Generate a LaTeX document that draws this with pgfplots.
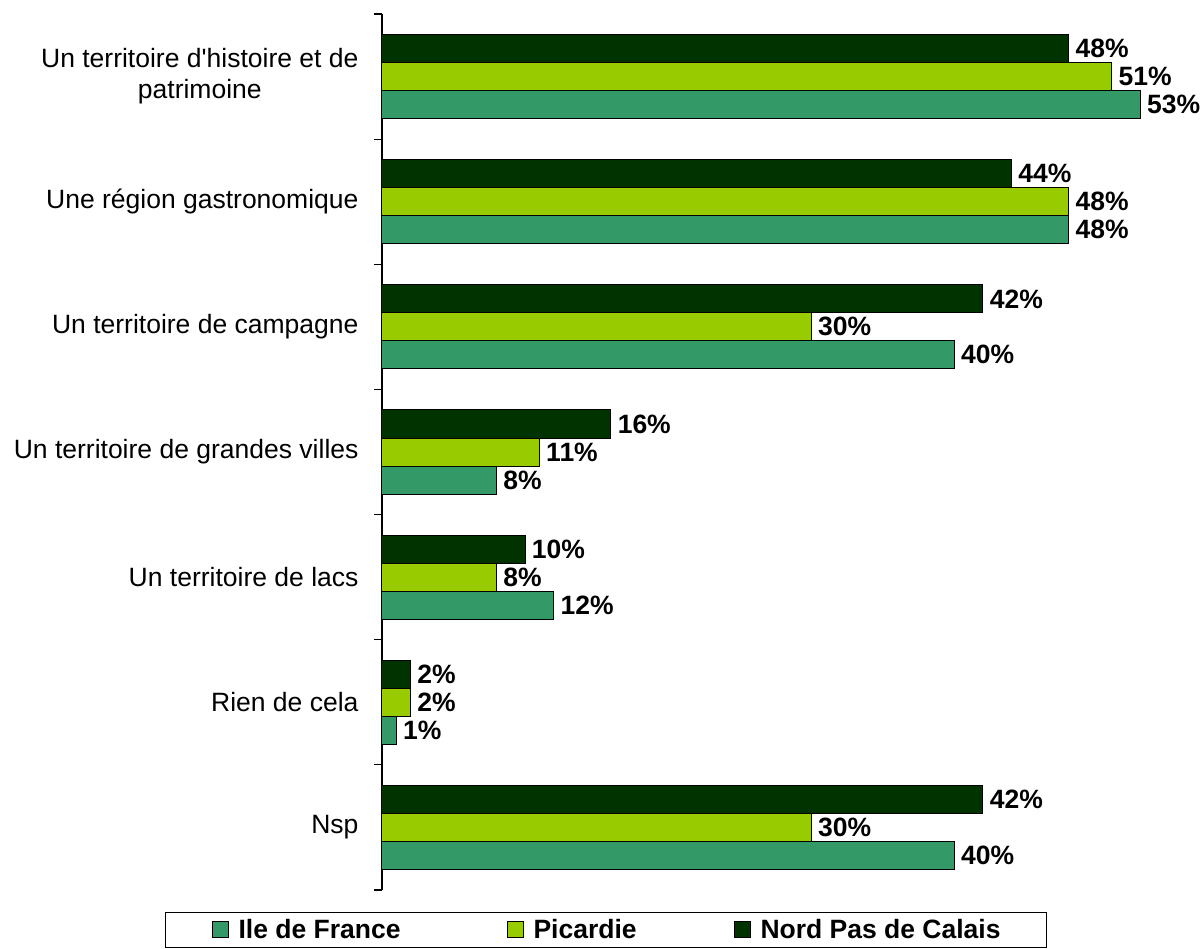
\documentclass[border=0pt]{standalone}
\usepackage{pgfplots}
\pgfplotsset{compat=1.18}
\usepackage{fontspec}
\setmainfont{Liberation Sans}
\definecolor{ile}{HTML}{339966}
\definecolor{pic}{HTML}{99CC00}
\definecolor{nord}{HTML}{003300}
\begin{document}
\begin{tikzpicture}
\begin{axis}[
 at={(0,0)}, anchor=south west,
 scale only axis, width=787pt, height=876pt,
 xmin=0, xmax=55, ymin=-0.5, ymax=6.5,
 xbar, bar width=28pt,
 legend image code/.code={\draw[#1,line width=1pt] (0pt,-8pt) rectangle (16pt,8pt);},
 axis x line=none, axis y line*=left,
 axis line style={black, line width=1.2pt},
 xtick=\empty,
 ytick={0,...,6},
 yticklabels={Nsp, Rien de cela, Un territoire de lacs, Un territoire de grandes villes, Un territoire de campagne, Une région gastronomique, {Un territoire d\textquotesingle histoire et de\\patrimoine}},
 yticklabel style={align=center, font=\fontsize{26.5}{31}\selectfont, xshift=-20pt},
 major tick length=0pt,
 minor ytick={-0.5,0.5,...,6.5},
 minor tick length=8pt,
 tick align=outside,
 minor tick style={black, line width=1.2pt},
 nodes near coords={\pgfmathprintnumber[assume math mode=true]{\pgfplotspointmeta}\%},
 nodes near coords style={font=\bfseries\fontsize{26.5}{31}\selectfont, anchor=west, text=black, xshift=3pt},
 every axis plot/.append style={draw=black, line width=1pt},
 legend columns=3,
 legend style={at={(-0.2757,-0.0251)}, anchor=north west, draw=black, line width=1pt,
   font=\bfseries\fontsize{26.5}{31}\selectfont, inner xsep=46pt, inner ysep=7pt,
   nodes={inner sep=0pt}, /tikz/every odd column/.style={column sep=10pt}},
 legend cell align=left,
 clip=false,
]
\addplot[fill=ile, bar shift=-28pt]
 coordinates {(40,0) (1,1) (12,2) (8,3) (40,4) (48,5) (53,6)};
\addplot[fill=pic, bar shift=0pt]
 coordinates {(30,0) (2,1) (8,2) (11,3) (30,4) (48,5) (51,6)};
\addplot[fill=nord, bar shift=28pt]
 coordinates {(42,0) (2,1) (10,2) (16,3) (42,4) (44,5) (48,6)};
\legend{\makebox[268pt][l]{Ile de France}, \makebox[200pt][l]{Picardie}, \makebox[240pt][l]{Nord Pas de Calais}}
\end{axis}
\path (-382pt,-58pt) rectangle (822pt,890pt);
\end{tikzpicture}
\end{document}
